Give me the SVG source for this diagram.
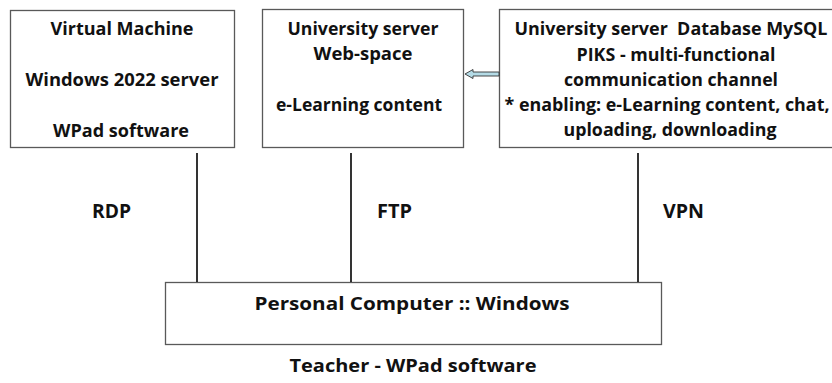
<svg xmlns="http://www.w3.org/2000/svg" width="832" height="383" viewBox="0 0 832 383">
<style>
.box{fill:#fff;stroke:#595959;stroke-width:1.3}
.t{font-family:"Open Sans","Liberation Sans",sans-serif;font-weight:700;font-size:17.5px;fill:#111;text-anchor:middle}
.lbl{font-size:19.5px}
.conn{stroke:#000;stroke-width:1.6;fill:none}
</style>
<rect width="832" height="383" fill="#fff"/>
<g id="vm">
<rect class="box" x="10.5" y="10.5" width="224" height="137"/>
<text class="t" x="122" y="35" textLength="143" lengthAdjust="spacingAndGlyphs">Virtual Machine</text>
<text class="t" x="122" y="86" textLength="193" lengthAdjust="spacingAndGlyphs">Windows 2022 server</text>
<text class="t" x="121" y="137" textLength="136" lengthAdjust="spacingAndGlyphs">WPad software</text>
</g>
<g id="web">
<rect class="box" x="262.5" y="9.5" width="201" height="138"/>
<text class="t" x="363" y="35" textLength="151" lengthAdjust="spacingAndGlyphs">University server</text>
<text class="t" x="363" y="60" textLength="99" lengthAdjust="spacingAndGlyphs">Web-space</text>
<text class="t" x="359" y="111" textLength="166" lengthAdjust="spacingAndGlyphs">e-Learning content</text>
</g>
<g id="db">
<rect class="box" x="499.5" y="9.5" width="345" height="138"/>
<text class="t" x="671" y="35" textLength="313" lengthAdjust="spacingAndGlyphs" xml:space="preserve">University server  Database MySQL</text>
<text class="t" x="676" y="61" textLength="199" lengthAdjust="spacingAndGlyphs">PIKS - multi-functional</text>
<text class="t" x="671" y="86" textLength="214" lengthAdjust="spacingAndGlyphs">communication channel</text>
<text class="t" x="667" y="111" textLength="325" lengthAdjust="spacingAndGlyphs">* enabling: e-Learning content, chat,</text>
<text class="t" x="670" y="136" textLength="213" lengthAdjust="spacingAndGlyphs">uploading, downloading</text>
</g>
<g id="pc">
<rect class="box" x="165.5" y="282.5" width="496" height="62"/>
<text class="t" x="412" y="310" textLength="315" lengthAdjust="spacingAndGlyphs">Personal Computer :: Windows</text>
</g>
<g id="teacher">
<text class="t" x="413" y="372" textLength="247" lengthAdjust="spacingAndGlyphs">Teacher - WPad software</text>
</g>
<g id="connectors">
<line class="conn" x1="197" y1="153" x2="197" y2="282"/>
<line class="conn" x1="351" y1="153" x2="351" y2="282"/>
<line class="conn" x1="638" y1="153" x2="638" y2="282"/>
<polygon points="465,74 473,69.5 473,72 499,72 499,76 473,76 473,78.5" fill="#b4dbe6" stroke="#333" stroke-width="0.9"/>
<text class="t lbl" x="111.5" y="218" textLength="39" lengthAdjust="spacingAndGlyphs">RDP</text>
<text class="t lbl" x="394.5" y="218" textLength="35" lengthAdjust="spacingAndGlyphs">FTP</text>
<text class="t lbl" x="683.5" y="218" textLength="41" lengthAdjust="spacingAndGlyphs">VPN</text>
</g>
</svg>
